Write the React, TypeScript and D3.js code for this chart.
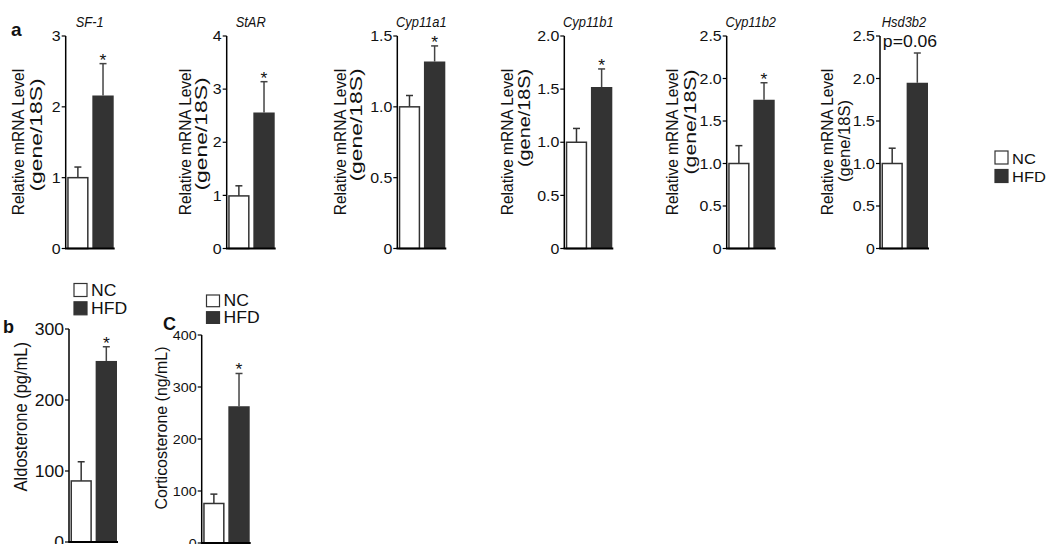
import React from "react";
import * as d3 from "d3";

const width = 1047;
const height = 544;
const FONT = "'Liberation Sans', Arial, Helvetica, sans-serif";
const SX = 1.1; // the figure is a little stretched sideways
const DARK = "#333333";

// panel a: mRNA levels, NC vs HFD
const genes = ["SF-1", "StAR", "Cyp11a1", "Cyp11b1", "Cyp11b2", "Hsd3b2"];
const ncMean = [1.0, 0.99, 1.0, 1.0, 1.0, 1.0];
const ncSem = [0.15, 0.19, 0.08, 0.13, 0.21, 0.18];
const hfdMean = [2.16, 2.56, 1.32, 1.52, 1.75, 1.95];
const hfdSem = [0.45, 0.58, 0.11, 0.17, 0.2, 0.35];
const geneYMax = [3, 4, 1.5, 2.0, 2.5, 2.5];
const geneTicks = [
  [0, 1, 2, 3],
  [0, 1, 2, 3, 4],
  [0, 0.5, 1, 1.5],
  [0, 0.5, 1, 1.5, 2],
  [0, 0.5, 1, 1.5, 2, 2.5],
  [0, 0.5, 1, 1.5, 2, 2.5],
];
const geneMarks = ["*", "*", "*", "*", "*", "p=0.06"];

// panels b and c: serum hormones
const hormones = ["Aldosterone (pg/mL)", "Corticosterone (ng/mL)"];
const hormNc = [86, 76];
const hormNcSem = [27, 18];
const hormHfd = [255, 263];
const hormHfdSem = [20, 63];
const hormYMax = [300, 400];
const hormTicks = [
  [0, 100, 200, 300],
  [0, 100, 200, 300, 400],
];

const groups = ["NC", "HFD"];

// layout of the top row
const topAxisX = [65.7, 226.7, 397.3, 564.3, 726.7, 880];
const labelOff1 = [-48, -42, -57, -57, -55, -53];
const labelOff2 = [-28, -24, -40, -39, -35, -35];
const label2Center = [135, 134, 125, 118, 122, 141];
const label2Len = [113, 113, 113, 98, 105, 82];

const T = ({ x, y, size, rotate, anchor = "middle", weight, italic, children, fill = "#111", sx = SX, len }: any) => (
  <text
    transform={`translate(${x},${y}) scale(${sx},1)${rotate ? ` rotate(${rotate})` : ""}`}
    fontSize={size}
    fontFamily={FONT}
    textAnchor={anchor}
    fontWeight={weight}
    fontStyle={italic ? "italic" : undefined}
    fill={fill}
    textLength={len}
    lengthAdjust={len ? "spacingAndGlyphs" : undefined}
  >
    {children}
  </text>
);

const BarPanel = ({
  axisX, y0, y1, yMax, ticks, fmt, tickSize, nc, ncE, hfd, hfdE, mark, markSize = 16,
}: any) => {
  const y = d3.scaleLinear().domain([0, yMax]).range([y0, y1]);
  const x = d3.scaleBand().domain(groups).range([axisX + 1.5, axisX + 48]).paddingInner(0.15);
  const vals = [nc, hfd];
  const errs = [ncE, hfdE];
  const hfdTop = y(hfd + hfdE);
  return (
    <g>
      {groups.map((g, i) => {
        const bx = x(g)!;
        const bw = x.bandwidth();
        const cx = bx + bw / 2;
        return (
          <g key={g}>
            <line x1={cx} x2={cx} y1={y(vals[i])} y2={y(vals[i] + errs[i])} stroke={i ? "#444" : DARK} strokeWidth={1.5} />
            <line x1={cx - 3.5} x2={cx + 3.5} y1={y(vals[i] + errs[i])} y2={y(vals[i] + errs[i])} stroke={i ? "#444" : DARK} strokeWidth={1.5} />
            <rect
              x={bx + (i ? 0 : 0.75)}
              y={y(vals[i])}
              width={bw - (i ? 0 : 1.5)}
              height={y(0) - y(vals[i])}
              fill={i ? DARK : "#fff"}
              stroke={DARK}
              strokeWidth={i ? 0 : 1.5}
            />
          </g>
        );
      })}
      <line x1={axisX} x2={axisX} y1={y(yMax)} y2={y(0)} stroke="#000" strokeWidth={1.5} />
      <line x1={axisX - 0.75} x2={x("HFD")! + x.bandwidth() + 1} y1={y(0)} y2={y(0)} stroke="#000" strokeWidth={2} />
      {ticks.map((t: number) => (
        <g key={t}>
          <line x1={axisX - 4} x2={axisX} y1={y(t)} y2={y(t)} stroke="#000" strokeWidth={1.2} />
          <T x={axisX - 5} y={y(t) + tickSize * 0.36} size={tickSize} anchor="end">
            {fmt(t)}
          </T>
        </g>
      ))}
      {mark === "*" ? (
        <T x={x("HFD")! + x.bandwidth() / 2} y={hfdTop + 2} size={markSize}>
          *
        </T>
      ) : mark ? (
        <T x={axisX + 30} y={hfdTop - 6} size={16}>
          {mark}
        </T>
      ) : null}
    </g>
  );
};

const Legend = ({ x, y, gap, size, box, boxH = box }: any) => (
  <g>
    {groups.map((g, i) => (
      <g key={g}>
        <rect x={x} y={y + i * gap} width={box} height={boxH} fill={i ? DARK : "#fff"} stroke={DARK} strokeWidth={1.2} />
        <T x={x + box + 4} y={y + i * gap + boxH - 0.5} size={size} anchor="start">
          {g}
        </T>
      </g>
    ))}
  </g>
);

export default function App() {
  const fmtGene = (yMax: number) => (t: number) => (yMax >= 3 ? String(t) : t === 0 ? "0" : t.toFixed(1));
  return (
    <svg width={width} height={height} style={{ position: "absolute", left: 0, top: 0, background: "#fff" }}>
      <rect width={width} height={height} fill="#fff" />
      <T x={11} y={36} size={19} weight="bold" anchor="start" sx={1}>a</T>
      {genes.map((g, i) => (
        <g key={g}>
          <T x={topAxisX[i] + 24} y={27} size={14} italic sx={0.92}>
            {g}
          </T>
          <T x={topAxisX[i] + labelOff1[i] + 6} y={142} size={15.5} rotate={-90}>
            Relative mRNA Level
          </T>
          <T x={topAxisX[i] + labelOff2[i] + 4.5} y={label2Center[i]} size={15.5} rotate={-90} len={label2Len[i]}>
            (gene/18S)
          </T>
          <BarPanel
            axisX={topAxisX[i]}
            y0={248.5}
            y1={36}
            yMax={geneYMax[i]}
            ticks={geneTicks[i]}
            fmt={fmtGene(geneYMax[i])}
            tickSize={14.5}
            nc={ncMean[i]}
            ncE={ncSem[i]}
            hfd={hfdMean[i]}
            hfdE={hfdSem[i]}
            mark={geneMarks[i]}
          />
        </g>
      ))}
      <Legend x={995} y={151} gap={18.5} size={15} box={13} />

      {/* panel b */}
      <T x={3} y={333} size={18} weight="bold" anchor="start" sx={1}>b</T>
      <Legend x={74} y={283.5} gap={18.3} size={16} box={13} />
      <T x={27} y={416.7} size={16.5} rotate={-90}>
        {hormones[0]}
      </T>
      <BarPanel
        axisX={69}
        y0={542}
        y1={329}
        yMax={hormYMax[0]}
        ticks={hormTicks[0]}
        fmt={(t: number) => String(t)}
        tickSize={16}
        nc={hormNc[0]}
        ncE={hormNcSem[0]}
        hfd={hormHfd[0]}
        hfdE={hormHfdSem[0]}
        mark="*"
      />

      {/* panel c */}
      <T x={163} y={330} size={18} weight="bold" anchor="start" sx={1}>C</T>
      <Legend x={206.5} y={295} gap={16.7} size={16} box={13} boxH={11.7} />
      <T x={167} y={428} size={15.5} rotate={-90} len={163}>
        {hormones[1]}
      </T>
      <BarPanel
        axisX={201.7}
        y0={543}
        y1={335}
        yMax={hormYMax[1]}
        ticks={hormTicks[1]}
        fmt={(t: number) => String(t)}
        tickSize={13}
        nc={hormNc[1]}
        ncE={hormNcSem[1]}
        hfd={hormHfd[1]}
        hfdE={hormHfdSem[1]}
        mark="*"
      />
    </svg>
  );
}
